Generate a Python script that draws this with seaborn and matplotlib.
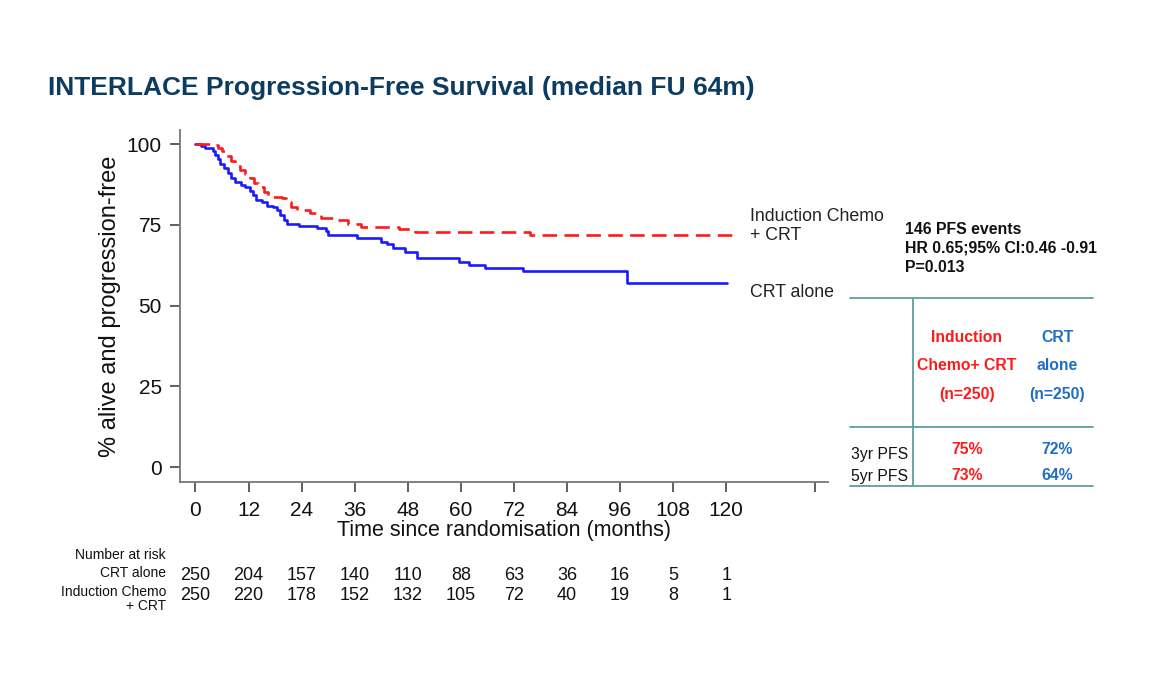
#!/usr/bin/env python3
"""
INTERLACE Progression-Free Survival - Kaplan-Meier style step plot
with number-at-risk table and summary box.
"""
import matplotlib
matplotlib.use('Agg')
import matplotlib.pyplot as plt
import matplotlib.transforms as mtransforms
from matplotlib.lines import Line2D
import pandas as pd
import seaborn as sns

# Kaplan-Meier steps (months, % alive and progression-free)
crt_months = [0, 1.3, 2.2, 4.0, 4.5, 5.0, 5.6, 6.5, 7.3, 8.0, 9.0, 10.3, 11.3,
              12.3, 13.0, 13.8, 15.0, 16.2, 17.5, 18.4, 19.2, 20.0, 20.8, 23.3,
              27.5, 29.5, 30.0, 36.5, 42.0, 43.2, 44.6, 47.3, 50.0, 59.5, 61.8,
              65.4, 74.0, 97.6, 120.2]
crt_surv = [100, 99.3, 98.7, 98.0, 96.8, 95.5, 93.8, 92.5, 91.0, 89.5, 88.3,
            87.5, 86.6, 85.5, 84.2, 82.8, 82.0, 81.0, 80.5, 79.5, 78.0, 76.5,
            75.2, 74.8, 74.2, 73.0, 71.8, 71.0, 69.6, 69.2, 67.8, 66.5, 64.7,
            63.5, 62.5, 61.6, 60.7, 57.0, 57.0]

ind_months = [0, 3.3, 5.0, 6.0, 7.0, 8.0, 9.0, 10.0, 11.2, 12.4, 13.2, 14.2,
              15.5, 16.5, 19.5, 20.5, 21.5, 23.0, 26.0, 28.3, 31.5, 34.5, 37.5,
              46.0, 49.6, 75.6, 122.0]
ind_surv = [100, 99.6, 98.8, 97.8, 96.3, 94.8, 93.3, 92.0, 90.8, 89.5, 88.0,
            86.7, 85.2, 83.8, 83.4, 82.0, 80.5, 79.5, 78.8, 77.0, 76.5, 75.3,
            74.3, 73.7, 72.7, 72.0, 72.0]

# Number at risk
risk_months = [0, 12, 24, 36, 48, 60, 72, 84, 96, 108, 120]
crt_at_risk = [250, 204, 157, 140, 110, 88, 63, 36, 16, 5, 1]
ind_at_risk = [250, 220, 178, 152, 132, 105, 72, 40, 19, 8, 1]

# Summary box
summary_lines = ['146 PFS events', 'HR 0.65;95% CI:0.46 -0.91', 'P=0.013']
ind_header = ['Induction', 'Chemo+ CRT', '(n=250)']
crt_header = ['CRT', 'alone', '(n=250)']
pfs_rows = ['3yr PFS', '5yr PFS']
ind_pfs = ['75%', '73%']
crt_pfs = ['72%', '64%']

RED = '#ff1a1a'
BLUE = '#1e6fc3'
TEAL = '#5e9ea3'
NAVY = '#0d3c61'
NARROW = ['Liberation Sans Narrow', 'Liberation Sans', 'DejaVu Sans']

sns.set_style('white')
plt.rcParams['font.family'] = ['Liberation Sans', 'DejaVu Sans']

df = pd.concat([
    pd.DataFrame({'month': crt_months, 'surv': crt_surv, 'arm': 'CRT alone'}),
    pd.DataFrame({'month': ind_months, 'surv': ind_surv, 'arm': 'Induction'}),
])

fig = plt.figure(figsize=(11.5, 7), dpi=100)
ax = fig.add_axes([0.1565, 0.3114, 0.5635, 0.5029])

sns.lineplot(
    data=df, x='month', y='surv', hue='arm', style='arm',
    palette={'CRT alone': '#1a1aff', 'Induction': RED},
    dashes={'CRT alone': '', 'Induction': (5.5, 2.8)},
    drawstyle='steps-post', estimator=None, sort=False,
    linewidth=1.9, legend=False, ax=ax,
)

ax.set_xlim(-3.5, 143)
ax.set_ylim(-4.6, 104.4)
ax.set_xticks(risk_months + [140])
ax.set_xticklabels([str(m) for m in risk_months] + [''], fontsize=15, family=NARROW)
ax.set_yticks([0, 25, 50, 75, 100])
ax.set_yticklabels(['0', '25', '50', '75', '100'], fontsize=15)
ax.tick_params(axis='both', direction='out', length=7, width=1.2, color='#444444',
               labelcolor='#111111', bottom=True, left=True)
ax.tick_params(axis='x', pad=7)
ax.tick_params(axis='y', pad=6)
for side in ['top', 'right']:
    ax.spines[side].set_visible(False)
for side in ['left', 'bottom']:
    ax.spines[side].set_color('#777777')
    ax.spines[side].set_linewidth(1.3)

ax.set_xlabel('Time since randomisation (months)', fontsize=15.5, family=NARROW,
              color='#111111', labelpad=0)
ax.set_ylabel('% alive and progression-free', fontsize=17, color='#111111', labelpad=4)

# curve labels
for y_val, label in [(77.7, 'Induction Chemo'), (71.8, '+ CRT'), (54.2, 'CRT alone')]:
    ax.text(125.3, y_val, label, fontsize=12.8, va='center', ha='left',
            color='#222222', clip_on=False)

# number at risk table
risk_trans = mtransforms.blended_transform_factory(ax.transData, fig.transFigure)
for m, n_crt, n_ind in zip(risk_months, crt_at_risk, ind_at_risk):
    ax.text(m, 1 - 575 / 700, str(n_crt), transform=risk_trans, ha='center',
            va='center', fontsize=13, family=NARROW, color='#111111')
    ax.text(m, 1 - 595 / 700, str(n_ind), transform=risk_trans, ha='center',
            va='center', fontsize=13, family=NARROW, color='#111111')
for y_px, label in [(555, 'Number at risk'), (573, 'CRT alone'),
                    (592, 'Induction Chemo'), (606, '+ CRT')]:
    fig.text(166 / 1150, 1 - y_px / 700, label, ha='right', va='center',
             fontsize=10, family=NARROW, color='#111111')

# title
fig.text(48 / 1150, 1 - 88 / 700, 'INTERLACE Progression-Free Survival (median FU 64m)',
         ha='left', va='center', fontsize=19, fontweight='bold', family=NARROW,
         color=NAVY)

# summary text
for i, line in enumerate(summary_lines):
    fig.text(905 / 1150, 1 - (229 + 19 * i) / 700, line, ha='left', va='center',
             fontsize=11.4, fontweight='bold', color='#111111')

# summary table lines
for y_px in [298, 427, 486]:
    fig.add_artist(Line2D([850 / 1150, 1093 / 1150], [1 - y_px / 700] * 2,
                          color=TEAL, linewidth=1.3))
fig.add_artist(Line2D([913 / 1150] * 2, [1 - 298 / 700, 1 - 486 / 700],
                      color=TEAL, linewidth=1.3))

header_y = [337, 365, 395]
for y_px, h_ind, h_crt in zip(header_y, ind_header, crt_header):
    fig.text(967 / 1150, 1 - y_px / 700, h_ind, ha='center', va='center',
             fontsize=11.3, fontweight='bold', color=RED)
    fig.text(1057 / 1150, 1 - y_px / 700, h_crt, ha='center', va='center',
             fontsize=11.3, fontweight='bold', color=BLUE)

row_y = [450, 476]
label_y = [455, 476]
for yv, yl, row, v_ind, v_crt in zip(row_y, label_y, pfs_rows, ind_pfs, crt_pfs):
    fig.text(851 / 1150, 1 - yl / 700, row, ha='left', va='center',
             fontsize=11.3, color='#111111')
    fig.text(967 / 1150, 1 - yv / 700, v_ind, ha='center', va='center',
             fontsize=11.3, fontweight='bold', color=RED)
    fig.text(1057 / 1150, 1 - yv / 700, v_crt, ha='center', va='center',
             fontsize=11.3, fontweight='bold', color=BLUE)

fig.savefig('out.png', dpi=100)
plt.close(fig)
